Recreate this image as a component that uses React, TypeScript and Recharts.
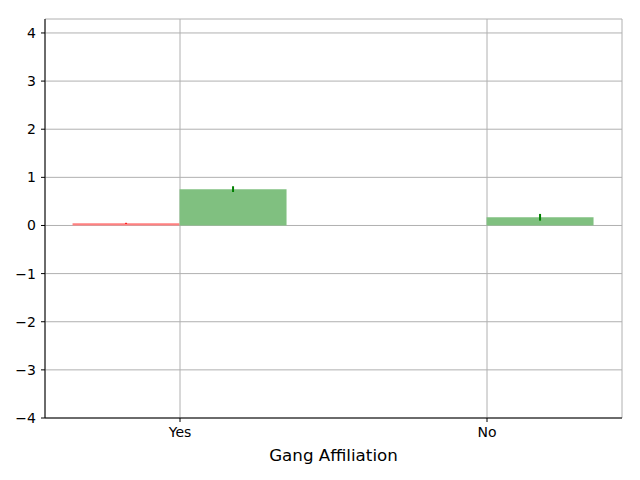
import {
  BarChart,
  Bar,
  XAxis,
  YAxis,
  CartesianGrid,
  ErrorBar,
} from "recharts";

const categories = ["Yes", "No"];
const redValues = [0.045, 0];
const redErrors = [0.01, 0];
const greenValues = [0.755, 0.17];
const greenErrors = [0.06, 0.07];

const yTicks = [-4, -3, -2, -1, 0, 1, 2, 3, 4];

const data = categories.map((name, i) => ({
  name,
  red: redValues[i],
  redErr: redErrors[i],
  green: greenValues[i],
  greenErr: greenErrors[i],
}));

const FONT = "DejaVu Sans, sans-serif";
const fmt = (v: number) => (v < 0 ? `\u2212${-v}` : `${v}`);

const App = () => {
  return (
    <div style={{ position: "absolute", left: 0, top: 0, width: 640, height: 480, background: "#fff" }}>
      <BarChart
        width={640}
        height={480}
        data={data}
        margin={{ top: 19, right: 18, bottom: 0, left: 0 }}
        barCategoryGap="15%"
        barGap={0}
        style={{ fontFamily: FONT }}
      >
        <CartesianGrid stroke="#b0b0b0" strokeWidth={1} />
        <XAxis
          dataKey="name"
          height={62}
          padding={{ left: -18.5, right: -18.5 }}
          axisLine={{ stroke: "#000" }}
          tickLine={{ stroke: "#000" }}
          tickSize={4}
          tickMargin={5}
          tick={{ fill: "#000", fontSize: 14 }}
          label={{ value: "Gang Affiliation", position: "insideBottom", offset: 19, fill: "#000", fontSize: 16.7 }}
        />
        <XAxis xAxisId="top" dataKey="name" orientation="top" height={0} tick={false} tickLine={false} axisLine={{ stroke: "#000" }} />
        <YAxis
          width={45}
          domain={[-4, 4.29]}
          ticks={yTicks}
          allowDataOverflow
          tickFormatter={fmt}
          axisLine={{ stroke: "#000" }}
          tickLine={{ stroke: "#000" }}
          tickSize={4}
          tickMargin={5}
          tick={{ fill: "#000", fontSize: 14 }}
        />
        <YAxis yAxisId="right" orientation="right" width={0} tick={false} tickLine={false} axisLine={{ stroke: "#000" }} />
        <Bar dataKey="red" fill="#ff8080" isAnimationActive={false}>
          <ErrorBar dataKey="redErr" width={0} stroke="#ff0000" strokeWidth={2} />
        </Bar>
        <Bar dataKey="green" fill="#80c080" isAnimationActive={false}>
          <ErrorBar dataKey="greenErr" width={0} stroke="#008000" strokeWidth={2} />
        </Bar>
      </BarChart>
    </div>
  );
};

export default App;
